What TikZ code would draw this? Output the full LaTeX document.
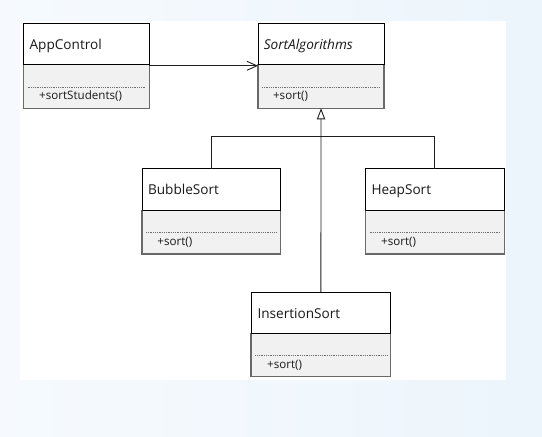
\documentclass[tikz,border=0pt]{standalone}
\usepackage{fontspec}
\setmainfont{Open Sans}
\usetikzlibrary{arrows.meta}
\definecolor{bgblue}{RGB}{246,250,254}
\definecolor{bgblue2}{RGB}{236,245,252}
\definecolor{compfill}{RGB}{241,241,241}
\definecolor{edgegray}{RGB}{105,105,105}
\definecolor{dotgray}{RGB}{110,110,110}
\definecolor{txt}{RGB}{25,25,25}
\definecolor{linecol}{RGB}{30,30,30}
\tikzset{
  clsbox/.style={rectangle, inner sep=0pt, outer sep=0pt},
  titletext/.style={inner sep=0pt, text=txt, font=\fontsize{13.6}{15}\selectfont},
  methtext/.style={inner sep=0pt, text=txt, font=\fontsize{11.6}{13}\selectfont},
  dotline/.style={dotgray, line width=0.6pt, dash pattern=on 0.9pt off 0.9pt},
  conn/.style={linecol, line width=0.9pt},
  assoc/.style={conn, -{Straight Barb[length=10pt,width=9pt]}},
  gen/.style={conn, -{Triangle[open,length=11pt,width=8.3pt]}},
}
\newcommand{\umlclass}[9]{%
  \node[clsbox, minimum width=#4pt, minimum height=#5pt, anchor=north west] (#1) at (#2,#3) {};
  \fill[compfill] ([yshift=-41.5pt]#1.north west) rectangle (#1.south east);
  \draw[edgegray, line width=1.3pt] ([yshift=-41.5pt]#1.north west) rectangle (#1.south east);
  \draw[black, line width=0.9pt] (#1.north west) rectangle ([yshift=-41.5pt]#1.north east);
  \draw[dotline] ([xshift=4pt,yshift=-63.5pt]#1.north west) -- ([xshift=-4pt,yshift=-63.5pt]#1.north east);
  \node[titletext, anchor=base west] (#1-t) at ([xshift=#8pt,yshift=-26pt]#1.north west) {#6};
  \node[methtext, anchor=base west] (#1-m) at ([xshift=#9pt,yshift=-76.5pt]#1.north west) {#7};
}
\begin{document}
\begin{tikzpicture}[x=1pt,y=-1pt]
  \useasboundingbox (0,0) rectangle (542,437);
  \shade[left color=bgblue, right color=bgblue2] (0,0) rectangle (542,437);
  \fill[white] (20,21) rectangle (506,380);

  \umlclass{ac}{23.5}{23.3}{125.7}{85}{AppControl}{+sortStudents()}{5.9}{15.5}
  \umlclass{sa}{258}{23.3}{126.1}{85}{\itshape SortAlgorithms}{+sort()}{5.6}{14.9}
  \umlclass{bs}{142}{168.7}{138.8}{85.3}{BubbleSort}{+sort()}{5.8}{15.2}
  \umlclass{hs}{365.5}{168.7}{138.8}{85.3}{HeapSort}{+sort()}{5.8}{15.5}
  \umlclass{ins}{251.1}{292}{139.6}{84.7}{InsertionSort}{+sort()}{6.2}{15.9}

  \draw[assoc] (ac) -- (sa);
  \draw[gen] (ins.north) -- (sa.south);
  \coordinate (j) at (321.1,136.7);
  \draw[conn] (bs.north) |- (j) -| (hs.north);
\end{tikzpicture}
\end{document}
